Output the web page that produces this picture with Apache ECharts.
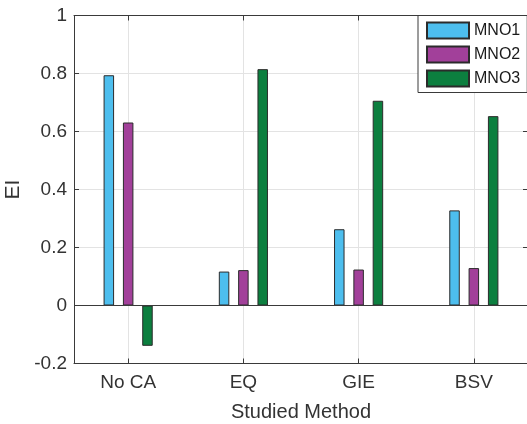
<!DOCTYPE html>
<html>
<head>
<meta charset="utf-8">
<script src="https://cdn.jsdelivr.net/npm/echarts@6/dist/echarts.min.js"></script>
<style>
  html, body { margin: 0; padding: 0; background: #fff; }
  #chart { width: 527px; height: 424px; }
</style>
</head>
<body>
<div id="chart"></div>
<script>
// Studied methods on the horizontal axis
const categories = ['No CA', 'EQ', 'GIE', 'BSV'];
// EI values per operator
const mno1 = [0.794, 0.117, 0.263, 0.328];
const mno2 = [0.631, 0.122, 0.124, 0.129];
const mno3 = [-0.139, 0.815, 0.706, 0.653];
const seriesNames = ['MNO1', 'MNO2', 'MNO3'];
const seriesColors = ['#4DBEEE', '#A2409A', '#0C7F3F'];
// Vertical axis range
const yMin = -0.2, yMax = 1, yStep = 0.2;

const FONT = 'Liberation Sans, Arial, Helvetica, sans-serif';
const AXIS_COLOR = '#3a3a3a';
const TEXT_COLOR = '#333333';
const catPositions = categories.map((c, i) => i + 1);

const chart = echarts.init(document.getElementById('chart'), null, { renderer: 'canvas' });

function toPairs(values) {
  return values.map((v, i) => [catPositions[i], v]);
}

const seriesValues = [mno1, mno2, mno3];
const series = seriesValues.map((vals, k) => ({
  name: seriesNames[k],
  type: 'bar',
  xAxisIndex: 0,
  yAxisIndex: 0,
  data: toPairs(vals),
  barWidth: 10.5,
  barGap: '84%',
  itemStyle: { color: seriesColors[k], borderColor: '#2b2b2b', borderWidth: 1 },
  emphasis: { disabled: true },
  animation: false
}));

// zero baseline across the plot
series[0].markLine = {
  silent: true,
  symbol: 'none',
  label: { show: false },
  lineStyle: { color: AXIS_COLOR, width: 1, type: 'solid' },
  data: [{ yAxis: 0 }],
  animation: false
};

const xCommon = {
  type: 'value',
  min: 0.53,
  max: 4.47,
  axisLine: { show: true, onZero: false, lineStyle: { color: AXIS_COLOR, width: 1 } },
  axisTick: { show: true, inside: true, length: 5, customValues: catPositions, lineStyle: { color: AXIS_COLOR } },
  axisLabel: {
    customValues: catPositions,
    formatter: v => categories[Math.round(v) - 1] || '',
    color: TEXT_COLOR, fontFamily: FONT, fontSize: 19, margin: 10
  }
};

const yCommon = {
  type: 'value',
  min: yMin,
  max: yMax,
  interval: yStep,
  axisLine: { show: true, onZero: false, lineStyle: { color: AXIS_COLOR, width: 1 } },
  axisTick: { show: true, inside: true, length: 5, lineStyle: { color: AXIS_COLOR } }
};

chart.setOption({
  backgroundColor: '#ffffff',
  animation: false,
  grid: { left: 74, top: 15.5, width: 454, height: 348, containLabel: false, outerBoundsMode: 'none' },
  legend: {
    data: seriesNames,
    orient: 'vertical',
    left: 418,
    top: 15.5,
    padding: [6, 7, 5, 8],
    itemWidth: 42,
    itemHeight: 16,
    itemGap: 6,
    itemTextGap: 6,
    icon: 'rect',
    backgroundColor: '#ffffff',
    borderColor: AXIS_COLOR,
    borderWidth: 1,
    borderRadius: 0,
    selectedMode: false,
    textStyle: { color: '#1a1a1a', fontFamily: FONT, fontSize: 16, lineHeight: 16 }
  },
  xAxis: [
    Object.assign({}, xCommon, {
      position: 'bottom',
      name: 'Studied Method',
      nameLocation: 'middle',
      nameGap: 39,
      nameTextStyle: { color: TEXT_COLOR, fontFamily: FONT, fontSize: 20 },
      splitLine: { show: true, lineStyle: { color: '#e3e3e3', width: 1 } }
    }),
    Object.assign({}, xCommon, {
      position: 'top',
      axisLabel: { show: false },
      splitLine: { show: false }
    })
  ],
  yAxis: [
    Object.assign({}, yCommon, {
      position: 'left',
      name: 'EI',
      nameLocation: 'middle',
      nameGap: 47,
      nameTextStyle: { color: TEXT_COLOR, fontFamily: FONT, fontSize: 21 },
      axisLabel: {
        formatter: v => String(Math.round(v * 10) / 10),
        color: TEXT_COLOR, fontFamily: FONT, fontSize: 19, margin: 7
      },
      splitLine: { show: true, lineStyle: { color: '#e3e3e3', width: 1 } }
    }),
    Object.assign({}, yCommon, {
      position: 'right',
      axisLabel: { show: false },
      splitLine: { show: false }
    })
  ],
  series: series
});
</script>
</body>
</html>
